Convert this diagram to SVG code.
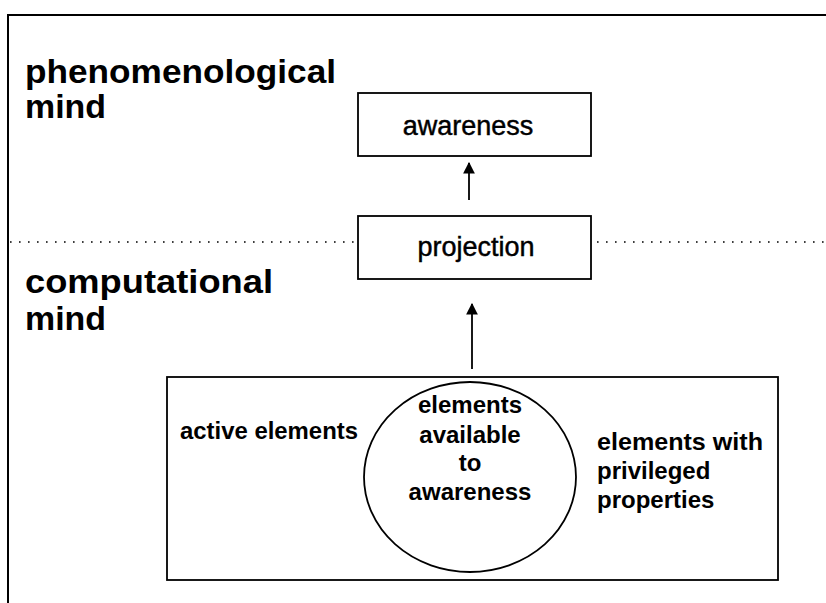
<svg xmlns="http://www.w3.org/2000/svg" width="826" height="603" viewBox="0 0 826 603">
  <style>
    .frame { fill: none; stroke: #000; stroke-width: 2; }
    .box { fill: #fff; stroke: #000; stroke-width: 1.8; }
    .sep { stroke: #000; stroke-width: 1.6; stroke-dasharray: 1.6 7.4; }
    .link { stroke: #000; stroke-width: 1.8; fill: none; }
    .head { font-family: "Liberation Sans", Arial, sans-serif; font-weight: bold; font-size: 34px; fill: #000; }
    .node { font-family: "Liberation Sans", Arial, sans-serif; font-size: 27px; fill: #000; stroke: #000; stroke-width: 0.45; text-anchor: middle; }
    .label { font-family: "Liberation Sans", Arial, sans-serif; font-weight: bold; font-size: 24px; fill: #000; }
  </style>
  <defs>
    <marker id="arrow" viewBox="0 0 10 10" refX="9" refY="5" markerWidth="6.5" markerHeight="6.5" orient="auto" markerUnits="strokeWidth">
      <path d="M0,0 L10,5 L0,10 Z" fill="#000"/>
    </marker>
  </defs>

  <rect width="826" height="603" fill="#fff"/>

  <!-- outer frame: top and left border -->
  <path class="frame" d="M8,603 L8,15 L826,15"/>

  <!-- level separator -->
  <g id="separator">
    <line class="sep" x1="10" y1="242" x2="356" y2="242"/>
    <line class="sep" x1="597" y1="242" x2="826" y2="242"/>
  </g>

  <!-- level headings -->
  <g id="heading-phenomenological">
    <text class="head" x="25" y="83" textLength="311" lengthAdjust="spacingAndGlyphs">phenomenological</text>
    <text class="head" x="25" y="118" textLength="81" lengthAdjust="spacingAndGlyphs">mind</text>
  </g>
  <g id="heading-computational">
    <text class="head" x="25" y="293" textLength="248" lengthAdjust="spacingAndGlyphs">computational</text>
    <text class="head" x="25" y="330" textLength="81" lengthAdjust="spacingAndGlyphs">mind</text>
  </g>

  <g id="node-awareness">
    <rect class="box" x="358" y="93" width="233" height="63"/>
    <text class="node" x="468" y="135">awareness</text>
  </g>

  <g id="node-projection">
    <rect class="box" x="358" y="216" width="233" height="63"/>
    <text class="node" x="476" y="256">projection</text>
  </g>

  <g id="node-elements">
    <rect class="box" x="167" y="377" width="611" height="203"/>
    <ellipse cx="470" cy="477" rx="106" ry="95" fill="none" stroke="#000" stroke-width="1.8"/>
    <text class="label" x="180" y="439" textLength="178" lengthAdjust="spacingAndGlyphs">active elements</text>
    <text class="label" x="470" y="413" text-anchor="middle">elements</text>
    <text class="label" x="470" y="443" text-anchor="middle">available</text>
    <text class="label" x="470" y="471" text-anchor="middle">to</text>
    <text class="label" x="470" y="500" text-anchor="middle">awareness</text>
    <text class="label" x="597" y="450" textLength="166" lengthAdjust="spacingAndGlyphs">elements with</text>
    <text class="label" x="597" y="479">privileged</text>
    <text class="label" x="597" y="508">properties</text>
  </g>

  <!-- connectors -->
  <g id="connectors">
    <line class="link" x1="469" y1="200" x2="469" y2="163" marker-end="url(#arrow)"/>
    <line class="link" x1="472" y1="369" x2="472" y2="304" marker-end="url(#arrow)"/>
  </g>
</svg>
